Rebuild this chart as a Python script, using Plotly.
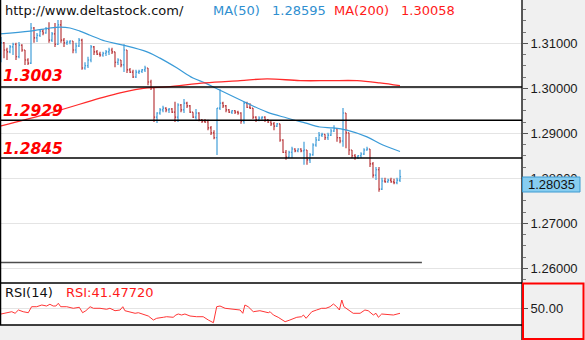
import plotly.graph_objects as go

# ---------------- data ----------------
opens = [1.3074, 1.3101, 1.3085, 1.3081, 1.3092, 1.3098, 1.3070, 1.3096, 1.3085, 1.3063,
         1.3056, 1.3134, 1.3112, 1.3118, 1.3127, 1.3123, 1.3132, 1.3107, 1.3121, 1.3098,
         1.3141, 1.3107, 1.3101, 1.3103, 1.3105, 1.3085, 1.3094, 1.3107, 1.3045, 1.3050,
         1.3063, 1.3092, 1.3081, 1.3076, 1.3074, 1.3078, 1.3081, 1.3085, 1.3081, 1.3058,
         1.3063, 1.3052, 1.3085, 1.3041, 1.3036, 1.3025, 1.3036, 1.3038, 1.3041, 1.3045,
         1.3014, 1.3001, 1.2936, 1.2945, 1.2952, 1.2956, 1.2952, 1.2954, 1.2947, 1.2936,
         1.2963, 1.2952, 1.2967, 1.2961, 1.2947, 1.2936, 1.2945, 1.2930, 1.2927, 1.2925,
         1.2912, 1.2901, 1.2890, 1.2956, 1.2967, 1.2961, 1.2952, 1.2947, 1.2950, 1.2947,
         1.2945, 1.2927, 1.2967, 1.2958, 1.2956, 1.2936, 1.2930, 1.2934, 1.2936, 1.2930,
         1.2925, 1.2921, 1.2916, 1.2921, 1.2885, 1.2858, 1.2847, 1.2858, 1.2865, 1.2861,
         1.2865, 1.2861, 1.2863, 1.2841, 1.2852, 1.2874, 1.2885, 1.2896, 1.2898, 1.2890,
         1.2896, 1.2905, 1.2910, 1.2890, 1.2883, 1.2945, 1.2901, 1.2863, 1.2850, 1.2847,
         1.2850, 1.2854, 1.2863, 1.2865, 1.2832, 1.2807, 1.2819, 1.2776, 1.2794, 1.2792,
         1.2796, 1.2792, 1.2790, 1.2796]
highs = [1.3114, 1.3103, 1.3090, 1.3096, 1.3101, 1.3101, 1.3103, 1.3098, 1.3085, 1.3067,
         1.3145, 1.3136, 1.3123, 1.3130, 1.3132, 1.3136, 1.3147, 1.3125, 1.3145, 1.3152,
         1.3152, 1.3112, 1.3107, 1.3107, 1.3105, 1.3101, 1.3112, 1.3110, 1.3058, 1.3070,
         1.3096, 1.3094, 1.3085, 1.3081, 1.3081, 1.3085, 1.3090, 1.3090, 1.3081, 1.3067,
         1.3063, 1.3098, 1.3085, 1.3045, 1.3041, 1.3041, 1.3041, 1.3043, 1.3050, 1.3045,
         1.3019, 1.3001, 1.2947, 1.2956, 1.2961, 1.2958, 1.2956, 1.2956, 1.2970, 1.2967,
         1.2965, 1.2976, 1.2970, 1.2963, 1.2947, 1.2954, 1.2947, 1.2932, 1.2932, 1.2930,
         1.2916, 1.2907, 1.2956, 1.2998, 1.2970, 1.2963, 1.2954, 1.2952, 1.2952, 1.2950,
         1.2947, 1.2970, 1.2970, 1.2967, 1.2956, 1.2938, 1.2938, 1.2938, 1.2938, 1.2932,
         1.2927, 1.2925, 1.2923, 1.2921, 1.2887, 1.2863, 1.2861, 1.2870, 1.2867, 1.2867,
         1.2867, 1.2881, 1.2863, 1.2856, 1.2878, 1.2892, 1.2903, 1.2901, 1.2898, 1.2901,
         1.2910, 1.2918, 1.2912, 1.2892, 1.2956, 1.2945, 1.2901, 1.2863, 1.2854, 1.2852,
         1.2858, 1.2867, 1.2870, 1.2865, 1.2836, 1.2825, 1.2825, 1.2801, 1.2801, 1.2799,
         1.2801, 1.2799, 1.2801, 1.2819]
lows = [1.3058, 1.3067, 1.3063, 1.3078, 1.3074, 1.3063, 1.3067, 1.3081, 1.3052, 1.3052,
        1.3054, 1.3101, 1.3103, 1.3114, 1.3118, 1.3121, 1.3101, 1.3103, 1.3092, 1.3096,
        1.3101, 1.3092, 1.3096, 1.3098, 1.3078, 1.3078, 1.3092, 1.3041, 1.3041, 1.3045,
        1.3058, 1.3074, 1.3074, 1.3070, 1.3070, 1.3072, 1.3074, 1.3076, 1.3047, 1.3052,
        1.3047, 1.3036, 1.3034, 1.3034, 1.3023, 1.3023, 1.3032, 1.3034, 1.3036, 1.3007,
        1.2996, 1.2925, 1.2923, 1.2941, 1.2947, 1.2947, 1.2945, 1.2945, 1.2925, 1.2925,
        1.2947, 1.2945, 1.2956, 1.2945, 1.2934, 1.2930, 1.2927, 1.2923, 1.2923, 1.2907,
        1.2896, 1.2887, 1.2852, 1.2952, 1.2956, 1.2947, 1.2945, 1.2943, 1.2943, 1.2941,
        1.2921, 1.2921, 1.2956, 1.2954, 1.2932, 1.2925, 1.2927, 1.2930, 1.2925, 1.2923,
        1.2916, 1.2907, 1.2914, 1.2881, 1.2856, 1.2841, 1.2845, 1.2845, 1.2858, 1.2858,
        1.2858, 1.2830, 1.2830, 1.2834, 1.2850, 1.2870, 1.2883, 1.2892, 1.2885, 1.2885,
        1.2894, 1.2903, 1.2881, 1.2878, 1.2870, 1.2867, 1.2852, 1.2845, 1.2841, 1.2843,
        1.2845, 1.2852, 1.2861, 1.2825, 1.2801, 1.2796, 1.2770, 1.2774, 1.2790, 1.2790,
        1.2790, 1.2787, 1.2787, 1.2792]
closes = [1.3101, 1.3085, 1.3081, 1.3092, 1.3098, 1.3070, 1.3096, 1.3085, 1.3063, 1.3056,
          1.3134, 1.3112, 1.3118, 1.3127, 1.3123, 1.3132, 1.3107, 1.3121, 1.3098, 1.3141,
          1.3107, 1.3101, 1.3103, 1.3105, 1.3085, 1.3094, 1.3107, 1.3045, 1.3050, 1.3063,
          1.3092, 1.3081, 1.3076, 1.3074, 1.3078, 1.3081, 1.3085, 1.3081, 1.3058, 1.3063,
          1.3052, 1.3085, 1.3041, 1.3036, 1.3025, 1.3036, 1.3038, 1.3041, 1.3045, 1.3014,
          1.3001, 1.2936, 1.2945, 1.2952, 1.2956, 1.2952, 1.2954, 1.2947, 1.2936, 1.2963,
          1.2952, 1.2967, 1.2961, 1.2947, 1.2936, 1.2945, 1.2930, 1.2927, 1.2925, 1.2912,
          1.2901, 1.2890, 1.2956, 1.2967, 1.2961, 1.2952, 1.2947, 1.2950, 1.2947, 1.2945,
          1.2927, 1.2967, 1.2958, 1.2956, 1.2936, 1.2930, 1.2934, 1.2936, 1.2930, 1.2925,
          1.2921, 1.2916, 1.2921, 1.2885, 1.2858, 1.2847, 1.2858, 1.2865, 1.2861, 1.2865,
          1.2861, 1.2863, 1.2841, 1.2852, 1.2874, 1.2885, 1.2896, 1.2898, 1.2890, 1.2896,
          1.2905, 1.2910, 1.2890, 1.2883, 1.2945, 1.2901, 1.2863, 1.2850, 1.2847, 1.2850,
          1.2854, 1.2863, 1.2865, 1.2832, 1.2807, 1.2819, 1.2776, 1.2794, 1.2792, 1.2796,
          1.2792, 1.2790, 1.2796, 1.28035]
bar_idx = list(range(len(closes)))

ma50_idx = [-0.3, 9.7, 16.3, 19.7, 23, 26.3, 29.7, 34.7, 40.7, 48.7, 53, 58.7, 64, 68,
            72.3, 82, 88.7, 95.3, 101.3, 106.3, 110.7, 115.3, 122, 127.3, 133]
ma50_vals = [1.3121, 1.3127, 1.3134, 1.3136, 1.3134, 1.3127, 1.3118, 1.3105, 1.3096, 1.3081,
             1.3067, 1.3045, 1.3023, 1.3012, 1.2998, 1.2967, 1.2947, 1.2934, 1.2923, 1.2914,
             1.2912, 1.2907, 1.2892, 1.2874, 1.28595]

ma200_idx = [-0.3, 16.3, 33, 39.7, 48.7, 55.3, 68, 79.7, 88.7, 99.7, 109.7, 118.7, 126.3, 133]
ma200_vals = [1.2916, 1.2945, 1.2978, 1.2990, 1.3001, 1.3003, 1.3012, 1.3017, 1.3021, 1.3017,
              1.3017, 1.3017, 1.3012, 1.30058]

rsi_idx = [0, 1.9, 3.6, 4.7, 5.8, 7.4, 9.1, 10.2, 11.9, 13.6, 15.2, 16.3, 17.4, 18.3, 19.1,
           19.9, 21.9, 24.1, 26.1, 27.2, 28.3, 29.7, 30.8, 33, 35.2, 36.3, 38, 39.7, 40.6,
           41.3, 43, 44.7, 45.8, 47.4, 49.1, 50.8, 51.9, 54.1, 55.2, 57.4, 58.3, 59.1, 60.2,
           61.3, 63, 65.2, 67.4, 69.1, 70.8, 71.9, 73, 74.7, 77.4, 79.7, 80.6, 81.3, 82.4,
           84.1, 86.3, 88, 89.1, 89.7, 90.8, 92.4, 94.7, 96.3, 98.6, 100.2, 100.8, 101.7,
           103.6, 105.2, 106.9, 108.3, 109.7, 110.8, 111.9, 112.8, 113.6, 114.3, 115.8,
           117.4, 119.7, 121.3, 122.4, 124.1, 125, 125.8, 126.9, 129.7, 130.8, 133]
rsi_vals = [40.3, 42.5, 44.2, 41.5, 47.1, 44.2, 42.5, 52.7, 52.7, 55.6, 53.9, 56.8, 53.9, 53.9,
            58.5, 52.7, 52.7, 50.0, 51.7, 42.5, 45.9, 52.7, 50.0, 50.0, 48.3, 50.0, 45.9,
            47.1, 52.7, 45.9, 44.2, 41.5, 42.5, 40.3, 36.9, 30.1, 33.0, 34.7, 35.7, 34.7,
            38.6, 40.3, 38.6, 40.3, 36.9, 35.7, 35.7, 30.1, 25.5, 52.7, 53.9, 50.0, 48.3,
            47.1, 41.5, 55.6, 52.7, 44.2, 45.9, 44.2, 42.5, 44.2, 38.6, 34.7, 27.2, 30.1,
            34.7, 35.7, 38.6, 33.0, 44.2, 47.1, 50.0, 50.0, 52.7, 57.3, 52.7, 47.1, 64.1,
            52.7, 47.1, 41.5, 41.5, 47.1, 45.9, 38.6, 41.5, 34.7, 40.3, 38.6, 38.6, 41.4772]

level_values = [1.3003, 1.2929, 1.2845]
level_labels = ["1.3003", "1.2929", "1.2845"]
support_level = 1.2613
support_end_idx = 140.3
last_price = 1.28035
ma50_last = "1.28595"
ma200_last = "1.30058"
rsi_last = "41.47720"

# ---------------- geometry helpers ----------------
W, H = 585, 340
PLOT_R = 522 / W
MAIN_B = 1 - 283 / H
RSI_B = 1 - 325 / H
Y_RANGE = [1.256733, 1.319622]


def py(p):
    return 1 - p / H


def pxx(p):
    return p / W


fig = go.Figure()

fig.add_trace(go.Ohlc(
    x=bar_idx, open=opens, high=highs, low=lows, close=closes,
    increasing=dict(line=dict(color="#3196d6", width=1.1)),
    decreasing=dict(line=dict(color="#b3282d", width=1.1)),
    tickwidth=0.36, hoverinfo="skip", xaxis="x", yaxis="y"))

fig.add_trace(go.Scatter(x=ma50_idx, y=ma50_vals, mode="lines",
                         line=dict(color="#3a9bd8", width=1.2, shape="spline"),
                         hoverinfo="skip", xaxis="x", yaxis="y"))
fig.add_trace(go.Scatter(x=ma200_idx, y=ma200_vals, mode="lines",
                         line=dict(color="#ff2a2a", width=1.3, shape="spline"),
                         hoverinfo="skip", xaxis="x", yaxis="y"))
fig.add_trace(go.Scatter(x=rsi_idx, y=rsi_vals, mode="lines",
                         line=dict(color="#ff3535", width=1),
                         hoverinfo="skip", xaxis="x", yaxis="y2"))

shapes = []
# horizontal key levels
for v in level_values:
    shapes.append(dict(type="line", xref="x domain", yref="y", x0=0, x1=1, y0=v, y1=v,
                       line=dict(color="black", width=1.5), layer="above"))
shapes.append(dict(type="line", xref="x", yref="y", x0=-0.4, x1=support_end_idx,
                   y0=support_level, y1=support_level,
                   line=dict(color="#4d4d4d", width=1.6), layer="above"))
# panel borders
shapes.append(dict(type="line", xref="paper", yref="paper", x0=pxx(0.6), x1=pxx(0.6),
                   y0=py(0), y1=py(325), line=dict(color="black", width=1.3)))
shapes.append(dict(type="line", xref="paper", yref="paper", x0=0, x1=PLOT_R,
                   y0=py(283), y1=py(283), line=dict(color="black", width=1.3)))
shapes.append(dict(type="line", xref="paper", yref="paper", x0=0, x1=PLOT_R,
                   y0=py(325), y1=py(325), line=dict(color="black", width=1.3)))
shapes.append(dict(type="line", xref="paper", yref="paper", x0=PLOT_R, x1=PLOT_R,
                   y0=py(0), y1=py(340), line=dict(color="black", width=1.3)))
# current price box
shapes.append(dict(type="rect", xref="paper", yref="paper", x0=pxx(522.5), x1=pxx(580),
                   y0=py(192), y1=py(177), fillcolor="#87cdf0",
                   line=dict(color="#3d9ad1", width=1), layer="above"))
# red rectangle around RSI scale
shapes.append(dict(type="rect", xref="paper", yref="paper", x0=pxx(523), x1=pxx(583.5),
                   y0=py(339), y1=py(283.5), line=dict(color="#ff0000", width=2),
                   layer="above"))

hdr_font = dict(family="DejaVu Sans", size=13)
annotations = [
    dict(text="http://www.deltastock.com/", x=pxx(4), y=py(10.5), font=dict(hdr_font, color="#111111")),
    dict(text="MA(50)", x=pxx(211.5), y=py(10.5), font=dict(hdr_font, color="#2f8fd0")),
    dict(text=ma50_last, x=pxx(270.5), y=py(10.5), font=dict(hdr_font, color="#2f8fd0")),
    dict(text="MA(200)", x=pxx(333), y=py(10.5), font=dict(hdr_font, color="#ff1a1a")),
    dict(text=ma200_last, x=pxx(400), y=py(10.5), font=dict(hdr_font, color="#ff1a1a")),
    dict(text="RSI(14)", x=pxx(4), y=py(292.5), font=dict(hdr_font, color="#111111")),
    dict(text="RSI:" + rsi_last, x=pxx(65), y=py(292.5), font=dict(hdr_font, color="#ff1a1a")),
    dict(text=f"{last_price:.5f}", x=pxx(551.5), y=py(184.5), xanchor="center",
         font=dict(family="Liberation Sans", size=13, color="#111111")),
]
for txt, yc in zip(level_labels, [76, 111, 148.5]):
    annotations.append(dict(text=txt, x=pxx(2), y=py(yc),
                            font=dict(family="DejaVu Sans", size=15.5, color="#ff0000",
                                      weight="bold", style="italic")))
for a in annotations:
    a.setdefault("xanchor", "left")
    a.update(xref="paper", yref="paper", yanchor="middle", showarrow=False,
             borderpad=0)

fig.update_layout(
    width=W, height=H, margin=dict(l=0, r=0, t=0, b=0, pad=0),
    paper_bgcolor="#f0f0f0", plot_bgcolor="white",
    showlegend=False, hovermode=False,
    xaxis=dict(domain=[0, PLOT_R], range=[-1 / 3, 173.667], visible=False,
               rangeslider=dict(visible=False), anchor="y"),
    yaxis=dict(domain=[MAIN_B, 1], range=Y_RANGE, side="right", anchor="x",
               tick0=1.26, dtick=0.01, tickformat=".5f", ticks="outside", ticklen=5,
               tickcolor="#555555", showgrid=True, gridcolor="#e4e4e4", gridwidth=1,
               zeroline=False, showline=False,
               tickfont=dict(family="Liberation Sans", size=13, color="#1a1a1a"),
               minor=dict(tick0=1.26, dtick=0.0025, ticks="outside", ticklen=3,
                          tickcolor="#777777", showgrid=False)),
    yaxis2=dict(domain=[RSI_B, MAIN_B], range=[21.6, 93.0], side="right", anchor="x",
                tickvals=[50], ticktext=["50.00"], ticks="outside", ticklen=5,
                tickcolor="#555555", showgrid=True, gridcolor="#e4e4e4", zeroline=False,
                showline=False,
                tickfont=dict(family="Liberation Sans", size=13, color="#1a1a1a")),
    shapes=shapes, annotations=annotations,
)

fig.write_html("out.html")
